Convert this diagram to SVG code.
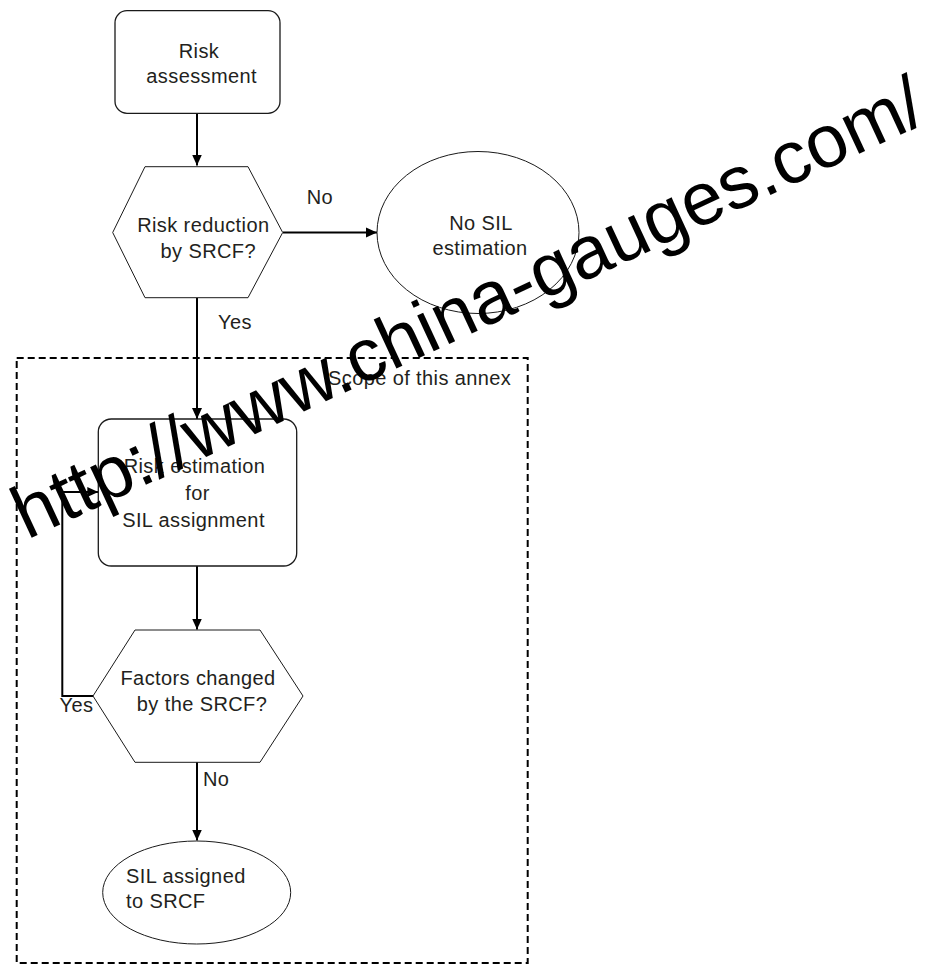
<svg xmlns="http://www.w3.org/2000/svg" width="930" height="967" viewBox="0 0 930 967">
  <style>
    .lbl { font-family: "Liberation Sans", Arial, sans-serif; font-size: 20px; fill: #231f20; letter-spacing: 0.4px; }
    .mid { text-anchor: middle; }
    .box { fill: #ffffff; stroke: #1a1a1a; stroke-width: 1.3; }
    .thin { fill: #ffffff; stroke: #1a1a1a; stroke-width: 1; }
    .conn { fill: none; stroke: #000000; stroke-width: 2; }
    .scope { fill: none; stroke: #000000; stroke-width: 2; stroke-dasharray: 7 4; }
    .mark { font-family: "Liberation Sans", Arial, sans-serif; font-size: 74.6px; fill: #000000; }
  </style>
  <defs>
    <marker id="arrow" markerUnits="userSpaceOnUse" markerWidth="12" markerHeight="12" viewBox="0 0 12 12" refX="11" refY="6" orient="auto">
      <path d="M0,1 L11,6 L0,11 Z" fill="#000000"/>
    </marker>
  </defs>
  <rect width="930" height="967" fill="#ffffff"/>

  <!-- scope boundary -->
  <g id="scope">
    <rect class="scope" x="16.7" y="358" width="511" height="605"/>
    <text class="lbl" x="328" y="385">Scope of this annex</text>
  </g>

  <!-- connectors -->
  <g id="connectors">
    <line class="conn" x1="197" y1="113" x2="197" y2="165.5" marker-end="url(#arrow)"/>
    <line class="conn" x1="283" y1="232.5" x2="377" y2="232.5" marker-end="url(#arrow)"/>
    <line class="conn" x1="197" y1="298" x2="197" y2="419" marker-end="url(#arrow)"/>
    <line class="conn" x1="197" y1="566" x2="197" y2="629.5" marker-end="url(#arrow)"/>
    <line class="conn" x1="197" y1="762" x2="197" y2="840.5" marker-end="url(#arrow)"/>
    <polyline class="conn" points="93,696 62.3,696 62.3,492 98.3,492" marker-end="url(#arrow)"/>
    <text class="lbl" x="306.7" y="204.3">No</text>
    <text class="lbl" x="218" y="329.3">Yes</text>
    <text class="lbl" x="59.5" y="712">Yes</text>
    <text class="lbl" x="203" y="786">No</text>
  </g>

  <g id="risk-assessment">
    <rect class="box" x="115" y="10.7" width="165" height="102.6" rx="12" ry="12"/>
    <text class="lbl mid" x="199" y="58.3">Risk</text>
    <text class="lbl mid" x="201.7" y="83.3">assessment</text>
  </g>

  <g id="risk-reduction">
    <polygon class="thin" points="145,166.7 248,166.7 282.7,232.5 248,297.7 145,297.7 112.7,232.5"/>
    <text class="lbl mid" x="203.3" y="231.7">Risk reduction</text>
    <text class="lbl mid" x="208.3" y="258.3">by SRCF?</text>
  </g>

  <g id="no-sil">
    <ellipse class="thin" cx="478" cy="232.5" rx="101" ry="81"/>
    <text class="lbl mid" x="481" y="230">No SIL</text>
    <text class="lbl mid" x="480" y="255">estimation</text>
  </g>

  <g id="risk-estimation">
    <rect class="box" x="98.3" y="419" width="198.4" height="147" rx="13" ry="13"/>
    <text class="lbl mid" x="194.5" y="473.3">Risk estimation</text>
    <text class="lbl mid" x="197.5" y="500">for</text>
    <text class="lbl mid" x="193.5" y="527">SIL assignment</text>
  </g>

  <g id="factors-changed">
    <polygon class="thin" points="135,630 260,630 303,696 260,762.3 135,762.3 93,696"/>
    <text class="lbl mid" x="198" y="685">Factors changed</text>
    <text class="lbl mid" x="202" y="711">by the SRCF?</text>
  </g>

  <g id="sil-assigned">
    <ellipse class="thin" cx="196.7" cy="892.5" rx="94" ry="51.5"/>
    <text class="lbl" x="126" y="882.7">SIL assigned</text>
    <text class="lbl" x="126" y="907.7">to SRCF</text>
  </g>

  <!-- site address printed diagonally across the sheet -->
  <text class="mark" transform="translate(27,540) rotate(-24.9)">http://www.china-gauges.com/</text>
</svg>
